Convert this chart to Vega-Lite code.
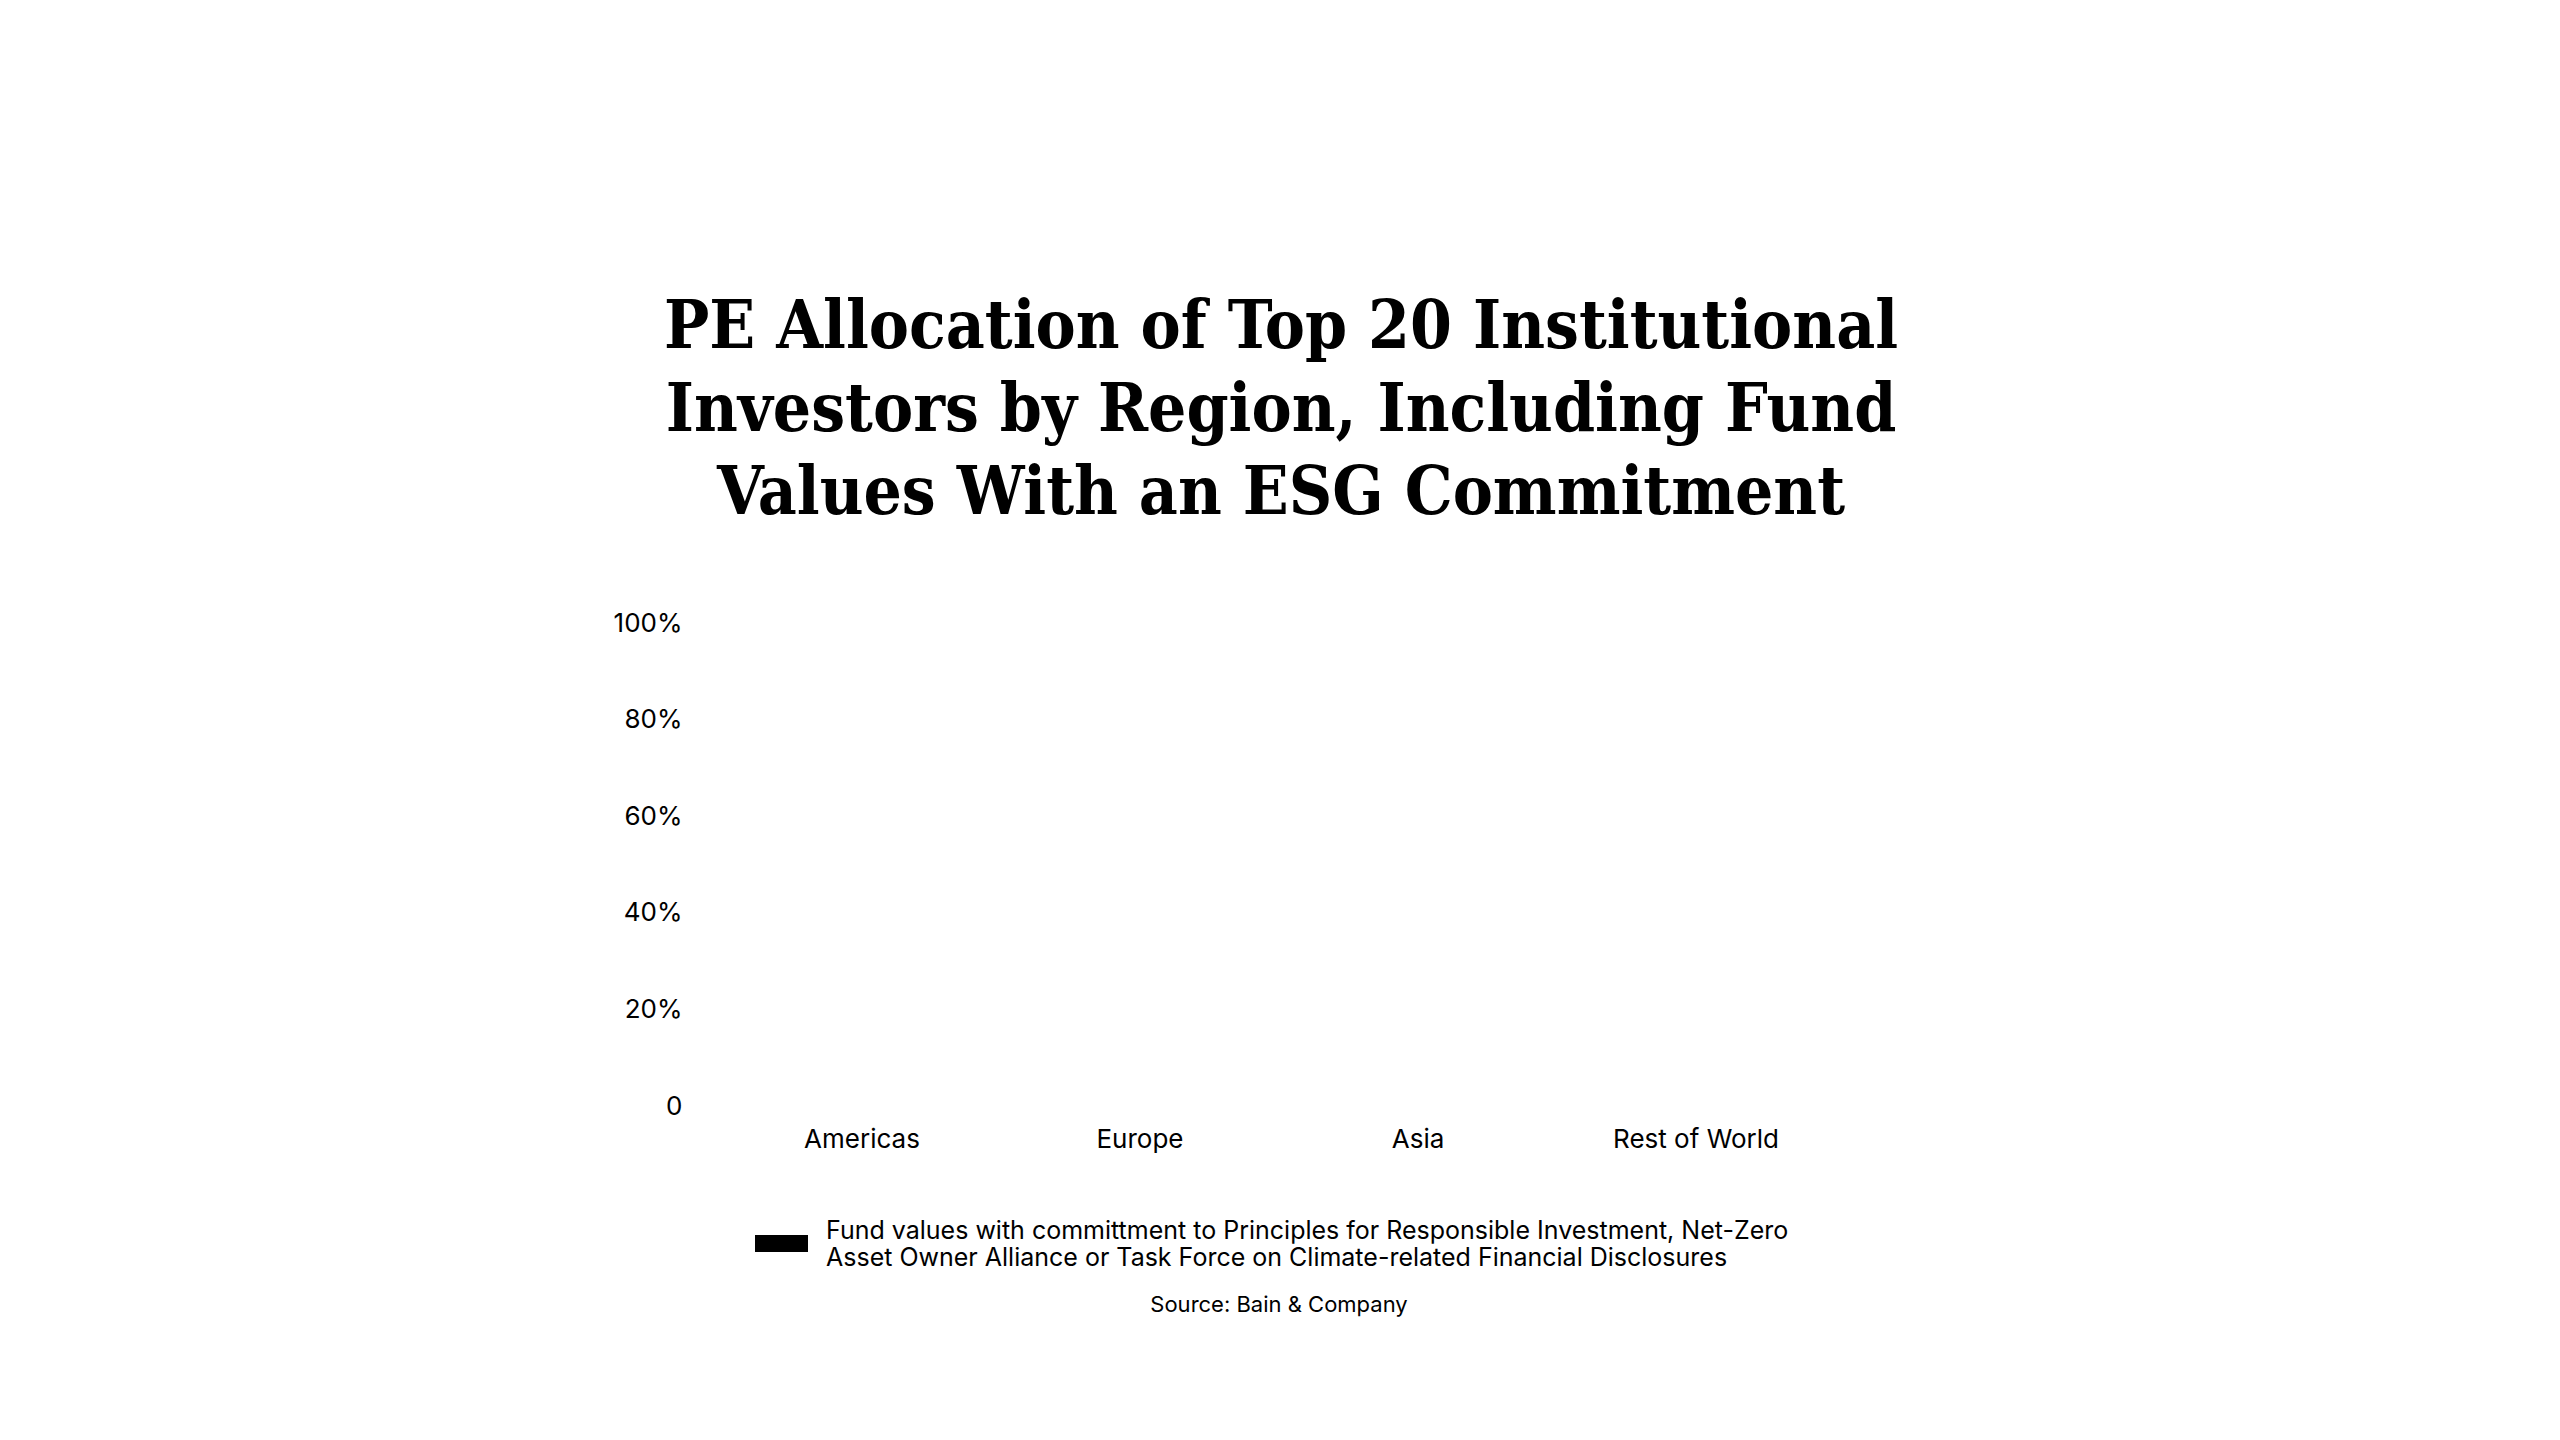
{
  "$schema": "https://vega.github.io/schema/vega-lite/v6.json",
  "background": "white",
  "padding": {"left": 612, "top": 293, "right": 10, "bottom": 10},
  "title": {
    "text": ["PE Allocation of Top 20 Institutional", "Investors by Region, Including Fund", "Values With an ESG Commitment"],
    "font": "DejaVu Serif Condensed, Liberation Serif",
    "fontSize": 67,
    "fontWeight": "bold",
    "lineHeight": 83,
    "color": "black",
    "anchor": "middle",
    "dx": 57,
    "offset": 82
  },
  "config": {
    "view": {"stroke": "transparent"},
    "axis": {
      "labelFont": "Inter",
      "labelFontSize": 26,
      "labelColor": "black",
      "domain": false,
      "ticks": false,
      "tickSize": 0,
      "grid": false,
      "title": null
    }
  },
  "spacing": 18,
  "resolve": {"scale": {"color": "independent"}, "legend": {"color": "independent"}},
  "vconcat": [
    {
      "width": 1112,
      "height": 483,
      "data": {
        "values": [
          {"region": "Americas", "series": "Fund values with committment to Principles for Responsible Investment, Net-Zero Asset Owner Alliance or Task Force on Climate-related Financial Disclosures", "share": 0},
          {"region": "Europe", "series": "Fund values with committment to Principles for Responsible Investment, Net-Zero Asset Owner Alliance or Task Force on Climate-related Financial Disclosures", "share": 0},
          {"region": "Asia", "series": "Fund values with committment to Principles for Responsible Investment, Net-Zero Asset Owner Alliance or Task Force on Climate-related Financial Disclosures", "share": 0},
          {"region": "Rest of World", "series": "Fund values with committment to Principles for Responsible Investment, Net-Zero Asset Owner Alliance or Task Force on Climate-related Financial Disclosures", "share": 0}
        ]
      },
      "mark": {"type": "bar"},
      "encoding": {
        "x": {
          "field": "region",
          "type": "nominal",
          "sort": null,
          "axis": {"labelAngle": 0, "labelPadding": 20}
        },
        "y": {
          "field": "share",
          "type": "quantitative",
          "scale": {"domain": [0, 1]},
          "axis": {
            "values": [0, 0.2, 0.4, 0.6, 0.8, 1],
            "format": ".0%",
            "labelExpr": "datum.value === 0 ? '0' : datum.label",
            "labelPadding": 41
          }
        },
        "color": {
          "field": "series",
          "type": "nominal",
          "scale": {"range": ["black"]},
          "legend": {
            "orient": "none",
            "legendX": 32,
            "legendY": 594,
            "title": null,
            "symbolType": "M-1,-0.32H1V0.32H-1Z",
            "symbolSize": 2809,
            "symbolFillColor": "black",
            "symbolStrokeWidth": 0,
            "labelFont": "Inter",
            "labelFontSize": 25,
            "labelColor": "black",
            "labelLimit": 0,
            "labelOffset": 18,
            "labelBaseline": "bottom",
            "labelExpr": "[substring(datum.label, 0, indexof(datum.label, ' Asset')), substring(datum.label, indexof(datum.label, ' Asset') + 1)]"
          }
        }
      }
    },
    {
      "width": 1112,
      "height": 30,
      "data": {"values": [{"note": "Source: Bain & Company"}]},
      "mark": {"type": "text", "font": "Inter", "fontSize": 22, "color": "black"},
      "encoding": {"text": {"field": "note", "type": "nominal"}}
    }
  ]
}
